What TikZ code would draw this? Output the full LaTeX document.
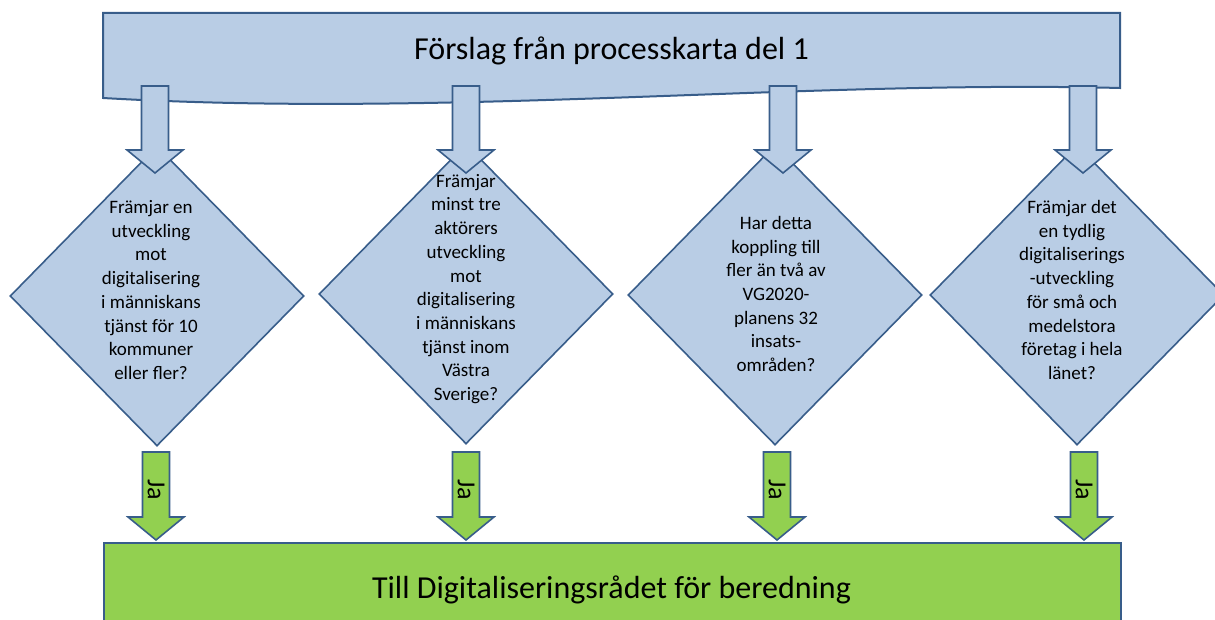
\documentclass[tikz,border=0pt]{standalone}
\usepackage{fontspec}
\setmainfont{Carlito}
\usetikzlibrary{shapes.geometric,calc}
\definecolor{bfill}{HTML}{B9CDE5}
\definecolor{bline}{HTML}{385D8A}
\definecolor{gfill}{HTML}{92D050}
\begin{document}
\begin{tikzpicture}[x=1pt,y=-1pt,
  box/.style={draw=bline,line width=2pt,line join=miter},
  dia/.style={diamond,draw=bline,fill=bfill,line width=1.6pt,minimum width=294pt,minimum height=300pt,inner sep=0pt},
  qtext/.style={align=center,font=\fontsize{19}{23.7}\selectfont,text=black,inner sep=0pt},
  blockarrow/.style={draw=bline,line width=1.6pt,line join=miter,
    to path={($(\tikztostart)+(-13.5,0)$) -- ($(\tikztostart)+(13.5,0)$) -- ($(\tikztotarget)+(13.5,-23)$) -- ($(\tikztotarget)+(28,-23)$) -- (\tikztotarget) -- ($(\tikztotarget)+(-28,-23)$) -- ($(\tikztotarget)+(-13.5,-23)$) -- cycle}},
  barrow/.style={blockarrow,fill=bfill},
  garrow/.style={blockarrow,fill=gfill},
  ja/.style={rotate=-90,font=\fontsize{26}{26}\selectfont,inner sep=0pt},
  title/.style={anchor=base,font=\fontsize{32}{38}\selectfont,text=black}
]
\useasboundingbox (0,0) rectangle (1215,620);
\clip (0,0) rectangle (1215,620);
\fill[white] (0,0) rectangle (1215,620);

% top document box
\draw[box,fill=bfill] (103,13) -- (1120,13) -- (1120,88) .. controls (800,80) and (450,118) .. (103,98) -- cycle;
\node[title] (top) at (611.5,60) {Förslag från processkarta del 1};

% diamonds
\node[dia] (d1) at (157,296) {};
\node[dia] (d2) at (466,294) {};
\node[dia] (d3) at (775,295) {};
\node[dia] (d4) at (1077,295) {};

% blue arrows
\coordinate (s1) at (155,86);  \coordinate (e1) at (155,173);
\coordinate (s2) at (466,86);  \coordinate (e2) at (466,173);
\coordinate (s3) at (783,86);  \coordinate (e3) at (783,173);
\coordinate (s4) at (1083,86); \coordinate (e4) at (1083,173);
\draw[barrow] (s1) to (e1);
\draw[barrow] (s2) to (e2);
\draw[barrow] (s3) to (e3);
\draw[barrow] (s4) to (e4);

% question texts
\node[qtext] (q1) at (151,290) {Främjar en\\utveckling\\mot\\digitalisering\\i människans\\tjänst för 10\\kommuner\\eller fler?};
\node[qtext] (q2) at (466,289) {Främjar\\minst tre\\aktörers\\utveckling\\mot\\digitalisering\\i människans\\tjänst inom\\Västra\\Sverige?};
\node[qtext] (q3) at (776,294) {Har detta\\koppling till\\fler än två av\\VG2020-\\planens 32\\insats-\\områden?};
\node[qtext] (q4) at (1072,290) {Främjar det\\en tydlig\\digitaliserings\\-utveckling\\för små och\\medelstora\\företag i hela\\länet?};

% bottom box
\node[box,fill=gfill,minimum width=1017pt,minimum height=120pt,anchor=north west,inner sep=0pt] (bot) at (103,542) {};
\node[title] (bottext) at (611.5,598) {Till Digitaliseringsrådet för beredning};

% green arrows
\coordinate (gs1) at (156,452);  \coordinate (ge1) at (156,540);
\coordinate (gs2) at (466,452);  \coordinate (ge2) at (466,540);
\coordinate (gs3) at (777,452);  \coordinate (ge3) at (777,540);
\coordinate (gs4) at (1084,452); \coordinate (ge4) at (1084,540);
\draw[garrow] (gs1) to (ge1);
\draw[garrow] (gs2) to (ge2);
\draw[garrow] (gs3) to (ge3);
\draw[garrow] (gs4) to (ge4);
\node[ja] (j1) at (156,490) {Ja};
\node[ja] (j2) at (466,490) {Ja};
\node[ja] (j3) at (777,490) {Ja};
\node[ja] (j4) at (1084,490) {Ja};
\end{tikzpicture}
\end{document}
